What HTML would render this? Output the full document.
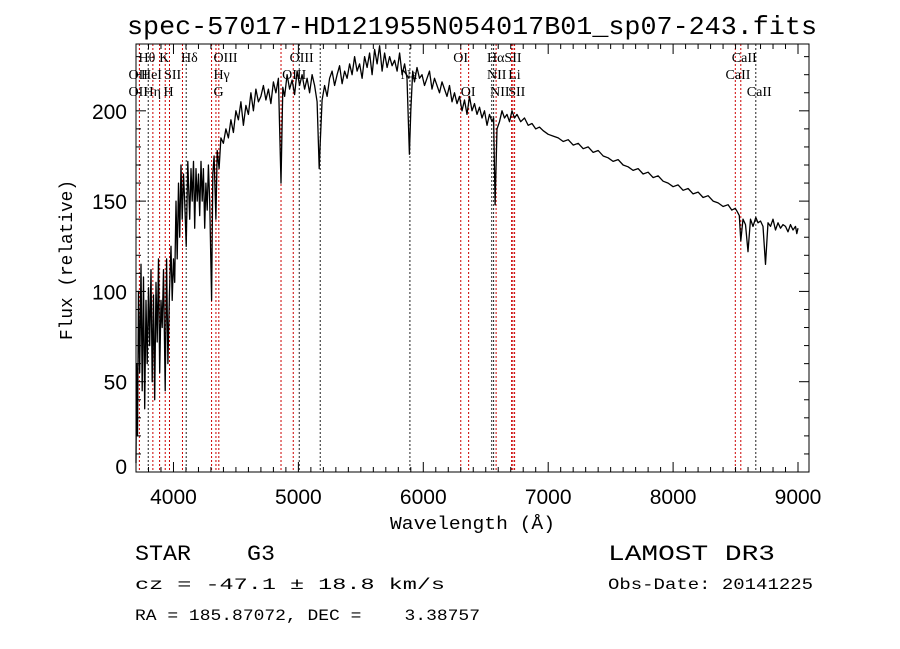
<!DOCTYPE html>
<html><head><meta charset="utf-8"><style>
html,body{margin:0;padding:0;background:#fff;width:900px;height:649px;overflow:hidden}
svg{display:block}
text{font-family:"Liberation Mono",monospace;fill:#000;white-space:pre}
.ser{font-family:"Liberation Serif",serif}
.sans{font-family:"Liberation Sans",sans-serif}
</style></head><body>
<svg id="chart" width="900" height="649" viewBox="0 0 900 649" xmlns="http://www.w3.org/2000/svg" xml:space="preserve">
<text x="127" y="34" font-size="26" textLength="690" lengthAdjust="spacingAndGlyphs">spec-57017-HD121955N054017B01_sp07-243.fits</text>
<text x="390" y="529" font-size="18" textLength="165" lengthAdjust="spacingAndGlyphs">Wavelength (Å)</text>
<text transform="translate(72,340) rotate(-90)" font-size="18" textLength="160" lengthAdjust="spacingAndGlyphs">Flux (relative)</text>
<text x="135" y="560" font-size="22" textLength="140" lengthAdjust="spacingAndGlyphs">STAR    G3</text>
<text x="608" y="560" font-size="22" textLength="167" lengthAdjust="spacingAndGlyphs">LAMOST DR3</text>
<text x="135" y="589" font-size="16" textLength="310" lengthAdjust="spacingAndGlyphs">cz = -47.1 ± 18.8 km/s</text>
<text x="608" y="589" font-size="16" textLength="205" lengthAdjust="spacingAndGlyphs">Obs-Date: 20141225</text>
<text x="135" y="620" font-size="16" textLength="345" lengthAdjust="spacingAndGlyphs">RA = 185.87072, DEC =    3.38757</text>
<g id="plot"></g>
</svg>
<script>
const wave=[3700,3705,3712,3720,3730,3740,3750,3760,3770,3780,3790,3800,3810,3820,3830,3840,3850,3860,3870,3880,3890,3900,3910,3920,3934,3945,3955,3968,3980,3990,4000,4010,4020,4030,4040,4050,4060,4070,4080,4090,4102,4115,4130,4140,4150,4160,4170,4180,4190,4200,4210,4220,4230,4240,4250,4260,4270,4280,4290,4305,4315,4325,4340,4350,4365,4380,4400,4420,4440,4460,4480,4500,4520,4540,4560,4580,4600,4620,4640,4660,4680,4700,4720,4740,4760,4780,4800,4820,4840,4861,4875,4890,4910,4930,4950,4970,4990,5010,5030,5050,5070,5090,5110,5130,5150,5167,5175,5190,5210,5230,5250,5270,5290,5310,5330,5350,5370,5390,5410,5430,5450,5470,5490,5510,5530,5550,5570,5590,5610,5630,5650,5670,5690,5710,5730,5750,5770,5790,5810,5830,5850,5870,5889,5900,5915,5930,5950,5970,5990,6010,6030,6050,6070,6090,6110,6130,6150,6170,6190,6210,6230,6250,6270,6290,6310,6330,6350,6370,6390,6410,6430,6450,6470,6490,6510,6530,6550,6563,6575,6590,6610,6630,6650,6670,6690,6710,6730,6750,6780,6810,6840,6870,6900,6930,6960,7000,7040,7080,7120,7160,7200,7240,7280,7320,7360,7400,7440,7480,7520,7560,7600,7640,7680,7720,7760,7800,7840,7880,7920,7960,8000,8040,8080,8120,8160,8200,8240,8280,8320,8360,8400,8440,8470,8498,8515,8530,8542,8560,8580,8600,8620,8640,8662,8680,8700,8720,8740,8760,8780,8800,8820,8840,8860,8880,8900,8920,8940,8960,8980,8990,9000];
const flux=[5,60,20,100,55,115,45,108,35,95,60,102,70,112,50,98,40,105,72,118,55,95,80,112,45,118,60,100,125,95,118,105,150,118,160,130,170,140,165,150,125,172,140,168,150,172,135,168,150,165,142,172,150,168,135,160,145,170,150,95,165,175,140,178,168,185,182,190,185,195,188,200,195,205,192,203,198,210,200,212,205,208,214,206,212,204,216,210,218,160,213,208,220,212,217,209,222,214,220,212,218,210,220,214,205,168,182,206,214,208,218,222,214,220,225,215,222,218,226,220,230,222,226,218,230,224,232,220,234,226,236,222,232,224,230,225,228,222,232,220,226,218,176,200,222,216,224,218,220,214,218,222,212,218,214,210,216,212,208,214,205,210,204,208,200,206,198,208,200,204,198,202,196,200,192,198,194,196,148,190,194,200,196,198,194,200,196,198,194,196,192,193,190,191,189,187,186,185,183,184,181,182,179,180,177,178,175,174,172,173,170,169,167,168,165,166,163,164,161,160,158,159,156,157,154,155,152,153,150,149,147,148,145,146,144,142,128,140,137,122,140,136,141,138,139,136,115,138,136,140,134,138,135,137,136,133,137,134,136,132,135,131,133,130,128,60];
const lineWave=[3727,3798,3835,3889,3934,3968,4072,4102,4305,4340,4363,4861,4959,5007,5175,5893,6300,6363,6548,6563,6583,6707,6717,6731,8498,8542,8662];
const lineBlack=[0,1,0,0,0,0,0,1,0,0,0,0,0,1,1,1,0,0,1,1,0,0,0,0,0,0,1];
const labelText=["Hθ","K","Hδ","OIII","OIII","OI","HαSII","CaII","OII","HeI","SII","Hγ","OIII","Na","NII","Li","CaII","OII","Hη","H","G","OI","NII","SII","CaII"];
const labelWave=[3720,3885,4060,4320,4930,6240,6510,8470,3640,3740,3925,4320,4870,5820,6510,6680,8420,3640,3760,3920,4320,6300,6535,6680,8590];
const labelRow=[0,0,0,0,0,0,0,0,1,1,1,1,1,1,1,1,1,2,2,2,2,2,2,2,2];
const xTicks=[4000,5000,6000,7000,8000,9000];
const yTicks=[0,50,100,150,200];

const L=136,R=809,T=44,B=472,X0=3700,X1=9088,Y0=0,Y1=237;
const sx=v=>L+(v-X0)/(X1-X0)*(R-L);
const sy=v=>B-(v-Y0)/(Y1-Y0)*(B-T);
const NS="http://www.w3.org/2000/svg";
const g=document.getElementById('plot');
function mk(tag,attrs){const e=document.createElementNS(NS,tag);for(const k in attrs)e.setAttribute(k,attrs[k]);g.appendChild(e);return e;}

lineWave.forEach((w,i)=>{
  const e=mk('line',{x1:sx(w),x2:sx(w),y1:T,y2:B,stroke:lineBlack[i]?'#222':'#c00','stroke-width':1,'stroke-dasharray':'2,2'});
  
  
});
labelText.forEach((t,i)=>{
  const e=mk('text',{x:sx(labelWave[i]),y:62+labelRow[i]*17,'font-size':14,class:'ser'});
  e.textContent=t;
  
  
});
const pts=wave.map((w,i)=>sx(w).toFixed(1)+','+sy(Math.max(Y0,Math.min(Y1,flux[i]))).toFixed(1)).join(' ');
const sp=mk('polyline',{points:pts,fill:'none',stroke:'#000','stroke-width':1.3,'stroke-linejoin':'round'});



const fr=mk('rect',{x:L,y:T,width:R-L,height:B-T,fill:'none',stroke:'#000','stroke-width':1});


for(let v=3700;v<=X1;v+=100){
  const big=v%1000===0, len=big?10:5;
  mk('line',{x1:sx(v),x2:sx(v),y1:B,y2:B-len,stroke:'#000'});
  mk('line',{x1:sx(v),x2:sx(v),y1:T,y2:T+len,stroke:'#000'});
}
for(let v=0;v<=Y1;v+=10){
  const big=v%50===0, len=big?10:5;
  mk('line',{x1:L,x2:L+len,y1:sy(v),y2:sy(v),stroke:'#000'});
  mk('line',{x1:R,x2:R-len,y1:sy(v),y2:sy(v),stroke:'#000'});
}
xTicks.forEach(v=>{
  const e=mk('text',{x:sx(v),y:504,'font-size':21,'text-anchor':'middle',class:'sans'});
  e.textContent=v;
  
  
});
yTicks.forEach(v=>{
  const e=mk('text',{x:127,y:Math.min(sy(v)+8,474),'font-size':21,'text-anchor':'end',class:'sans'});
  e.textContent=v;
  
  
});
</script>
</body></html>
